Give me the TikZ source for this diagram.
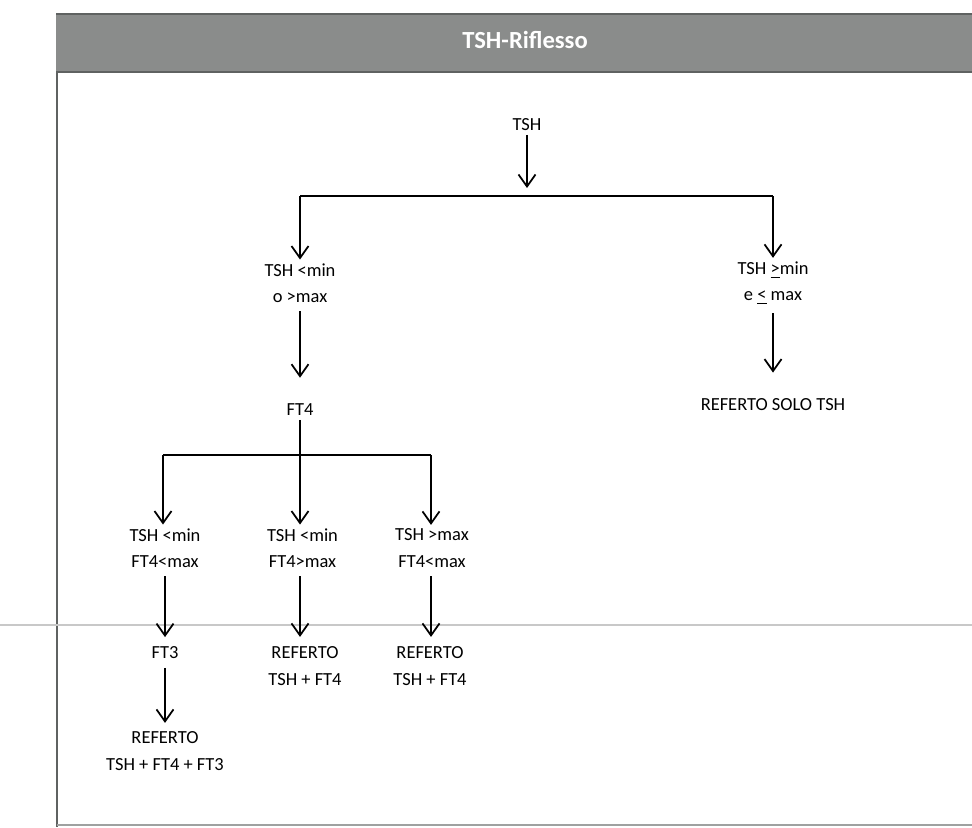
\documentclass[tikz,border=0pt]{standalone}
\usepackage{fontspec}
\setmainfont{Carlito}
\usepackage{xcolor}
\usepackage{tikz}
\usetikzlibrary{arrows.meta, positioning}
\definecolor{headgray}{RGB}{138, 140, 139}
\definecolor{rulegray}{RGB}{95, 98, 97}
\definecolor{foldgray}{RGB}{200, 200, 200}
\tikzset{
    lbl/.style  ={font=\fontsize{10.5}{15}\selectfont, align=center, inner sep=2pt},
    ttl/.style  ={font=\fontsize{14}{16}\selectfont\bfseries, text=white},
    ar/.style   ={-{Straight Barb[length=2.4mm, width=3.4mm]}, line width=1pt},
    ln/.style   ={line width=1pt},
    frm/.style  ={line width=0.8pt, draw=rulegray}
}
\newcommand{\geu}{\underline{>}}
\newcommand{\leu}{\underline{<}}

\begin{document}
\begin{tikzpicture}[x=1cm, y=1cm]
  \useasboundingbox (0,0) rectangle (19.44,-16.54);

  % ---- header and frame
  \fill[headgray] (1.12,-0.28) rectangle (19.44,-1.44);
  \draw[frm] (1.12,-0.28) -- (19.44,-0.28);
  \draw[frm] (1.12,-1.44) -- (19.44,-1.44);
  \draw[frm] (1.14,-1.44) -- (1.14,-16.54);
  \draw[frm, draw=rulegray!60] (1.14,-16.5) -- (19.44,-16.5);
  \draw[line width=0.6pt, draw=foldgray] (0,-12.5) -- (19.44,-12.5);
  \node[ttl] (title) at (10.5,-0.8) {TSH-Riflesso};

  % ---- first level
  \node[lbl] (tsh) at (10.54,-2.5) {TSH};
  \coordinate (j1) at (10.54,-3.92);
  \coordinate (j1l) at (6.0,-3.92);
  \coordinate (j1r) at (15.46,-3.92);
  \draw[ar, shorten >=0.16cm] (tsh) -- (j1);
  \draw[ln] (j1l) -- (j1r);

  \node[lbl] (out) at (6.0,-5.66) {TSH <min\\ o >max};
  \node[lbl] (in)  at (15.46,-5.66) {TSH \geu min\\ e \leu\ max};
  \draw[ar] (j1l) -- (out);
  \draw[ar] (j1r) -- (in);

  % ---- second level
  \node[lbl] (ft4)  at (6.0,-8.2) {FT4};
  \node[lbl] (solo) at (15.46,-8.1) {REFERTO SOLO TSH};
  \draw[ar, shorten <=0.1cm, shorten >=0.45cm] (out) -- (ft4);
  \draw[ar, shorten <=0.1cm, shorten >=0.45cm] (in) -- (solo);

  % ---- FT4 branches
  \coordinate (j2l) at (3.26,-9.1);
  \coordinate (j2r) at (8.62,-9.1);
  \draw[ln] (j2l) -- (j2r);

  \node[lbl] (c1) at (3.3,-10.96) {TSH <min\\ FT4<max};
  \node[lbl] (c2) at (6.05,-10.96) {TSH <min\\ FT4>max};
  \node[lbl] (c3) at (8.64,-10.96) {TSH >max\\ FT4<max};
  \draw[ar] (j2l) -- (c1.north -| j2l);
  \draw[ar] (ft4) -- (c2.north -| ft4);
  \draw[ar] (j2r) -- (c3.north -| j2r);

  % ---- results
  \node[lbl] (ft3) at (3.3,-13.06) {FT3};
  \node[lbl] (r2)  at (6.1,-13.32) {REFERTO\\ TSH + FT4};
  \node[lbl] (r3)  at (8.6,-13.32) {REFERTO\\ TSH + FT4};
  \node[lbl] (r1)  at (3.3,-15.02) {REFERTO\\ TSH + FT4 + FT3};
  \draw[ar, shorten <=0.1cm, shorten >=0.12cm] (c1) -- (ft3);
  \draw[ar, shorten <=0.1cm, shorten >=0.12cm] (c2.south -| ft4) -- (r2.north -| ft4);
  \draw[ar, shorten <=0.1cm, shorten >=0.12cm] (c3.south -| j2r) -- (r3.north -| j2r);
  \draw[ar, shorten <=0.1cm, shorten >=0.1cm] (ft3) -- (r1);
\end{tikzpicture}
\end{document}
